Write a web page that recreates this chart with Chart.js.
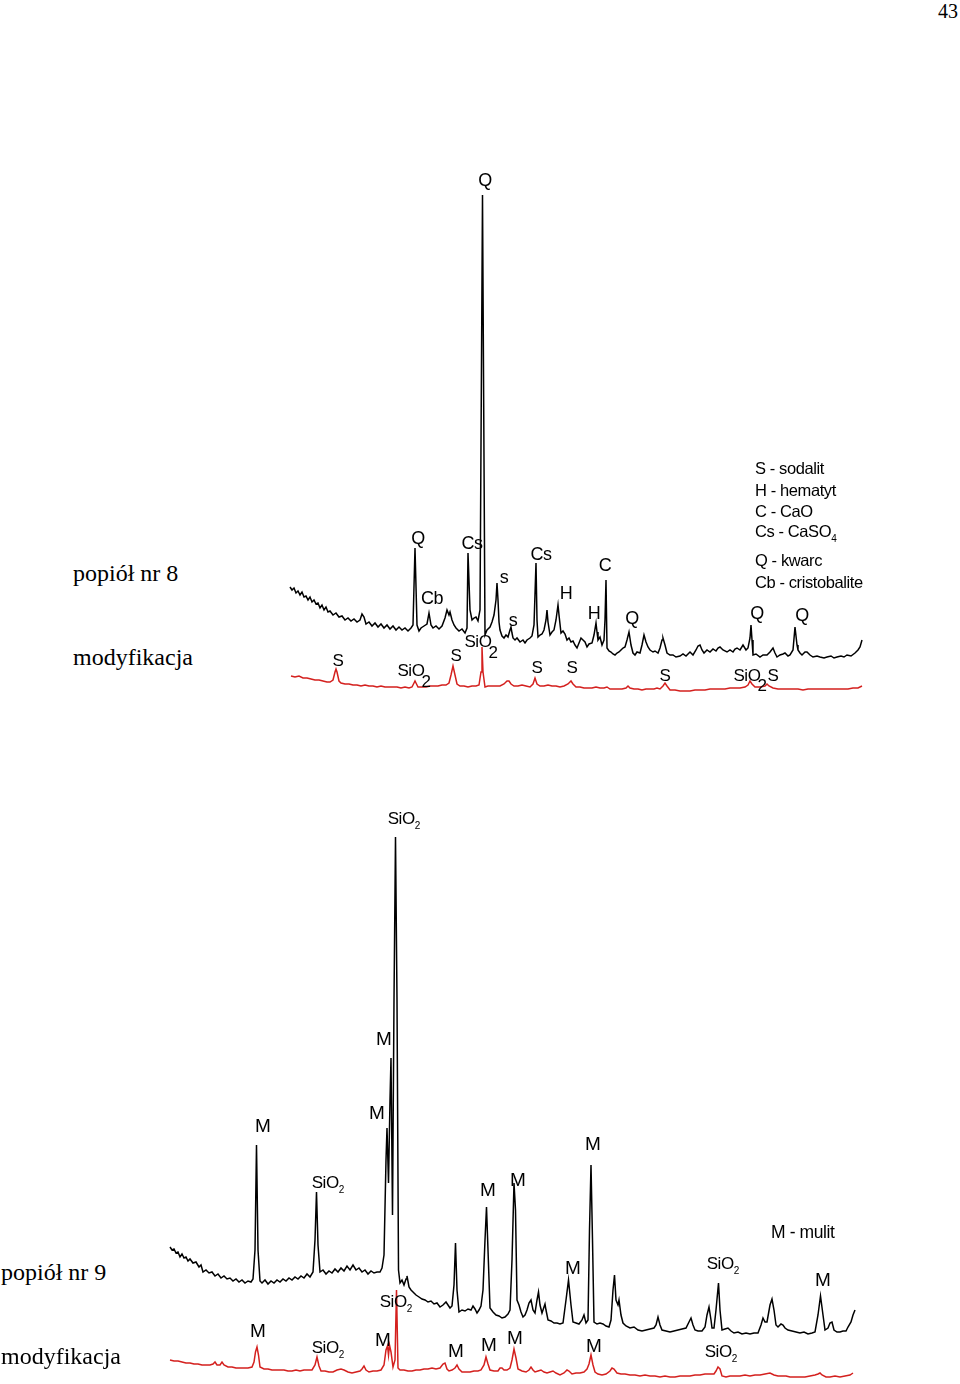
<!DOCTYPE html>
<html lang="pl">
<head>
    <meta charset="UTF-8">
    <title>popiół nr 8 / nr 9 - dyfraktogramy</title>
    <script src="https://cdn.jsdelivr.net/npm/chart.js"></script>
    <style>
        body {
            margin: 0;
            width: 960px;
            height: 1384px;
            position: relative;
            overflow: hidden;
            background: #fff;
            font-family: "Liberation Sans", Arial, sans-serif;
            color: #000;
        }
        canvas { position: absolute; }
        #chart8 { left: 240px; top: 150px; }
        #chart9 { left: 118px; top: 800px; }
        .t {
            position: absolute;
            transform: translate(-50%, -50%);
            white-space: nowrap;
            font-size: 18px;
            letter-spacing: -0.4px;
            line-height: 1;
        }
        .m { font-size: 19px; letter-spacing: 0; }
        .sm { font-size: 17px; }
        .serif {
            position: absolute;
            font-family: "Liberation Serif", "Times New Roman", serif;
            font-size: 24px;
            line-height: 1;
            transform: translateY(-50%);
            white-space: nowrap;
        }
        .legend {
            position: absolute;
            font-size: 16.5px;
            letter-spacing: -0.4px;
            line-height: 1;
            white-space: nowrap;
            transform: translateY(-50%);
        }
        sub { font-size: 10px; vertical-align: -5px; letter-spacing: 0; }
    </style>
</head>
<body>
    <div class="serif" style="left:938px; top:11px; font-size:20px;">43</div>

    <canvas id="chart8" width="720" height="560"></canvas>
    <canvas id="chart9" width="760" height="584"></canvas>

    <!-- popiół nr 8 -->
    <div class="serif" style="left:73px; top:573px;">popiół nr 8</div>
    <div class="serif" style="left:73px; top:657px;">modyfikacja</div>

    <div class="t" style="left:485px; top:180px;">Q</div>
    <div class="t" style="left:418px; top:538px;">Q</div>
    <div class="t" style="left:432px; top:598px;">Cb</div>
    <div class="t" style="left:472px; top:543px;">Cs</div>
    <div class="t" style="left:504px; top:577px;">s</div>
    <div class="t" style="left:541px; top:554px;">Cs</div>
    <div class="t" style="left:566px; top:593px;">H</div>
    <div class="t" style="left:605px; top:565px;">C</div>
    <div class="t" style="left:513px; top:620px;">s</div>
    <div class="t" style="left:594px; top:613px;">H</div>
    <div class="t" style="left:632px; top:618px;">Q</div>
    <div class="t" style="left:757px; top:613px;">Q</div>
    <div class="t" style="left:802px; top:615px;">Q</div>
    <div class="t sm" style="left:478px; top:641px;">SiO</div>
    <div class="t sm" style="left:493px; top:652px;">2</div>

    <div class="t sm" style="left:338px; top:660px;">S</div>
    <div class="t sm" style="left:411px; top:670px;">SiO</div>
    <div class="t sm" style="left:426px; top:681px;">2</div>
    <div class="t sm" style="left:456px; top:655px;">S</div>
    <div class="t sm" style="left:537px; top:667px;">S</div>
    <div class="t sm" style="left:572px; top:667px;">S</div>
    <div class="t sm" style="left:665px; top:675px;">S</div>
    <div class="t sm" style="left:747px; top:675px;">SiO</div>
    <div class="t sm" style="left:762px; top:685px;">2</div>
    <div class="t sm" style="left:773px; top:675px;">S</div>

    <div class="legend" style="left:755px; top:468px;">S - sodalit</div>
    <div class="legend" style="left:755px; top:490px;">H - hematyt</div>
    <div class="legend" style="left:755px; top:511px;">C - CaO</div>
    <div class="legend" style="left:755px; top:533px;">Cs - CaSO<sub>4</sub></div>
    <div class="legend" style="left:755px; top:560px;">Q - kwarc</div>
    <div class="legend" style="left:755px; top:582px;">Cb - cristobalite</div>

    <!-- popiół nr 9 -->
    <div class="serif" style="left:1px; top:1272px;">popiół nr 9</div>
    <div class="serif" style="left:1px; top:1356px;">modyfikacja</div>

    <div class="t sm" style="left:404px; top:820px;">SiO<sub>2</sub></div>
    <div class="t m" style="left:384px; top:1038px;">M</div>
    <div class="t m" style="left:377px; top:1112px;">M</div>
    <div class="t m" style="left:263px; top:1125px;">M</div>
    <div class="t m" style="left:593px; top:1143px;">M</div>
    <div class="t sm" style="left:328px; top:1184px;">SiO<sub>2</sub></div>
    <div class="t m" style="left:488px; top:1189px;">M</div>
    <div class="t m" style="left:518px; top:1179px;">M</div>
    <div class="legend" style="left:771px; top:1233px; font-size:17.5px;">M - mulit</div>
    <div class="t m" style="left:573px; top:1267px;">M</div>
    <div class="t sm" style="left:723px; top:1265px;">SiO<sub>2</sub></div>
    <div class="t m" style="left:823px; top:1279px;">M</div>
    <div class="t sm" style="left:396px; top:1303px;">SiO<sub>2</sub></div>

    <div class="t m" style="left:258px; top:1330px;">M</div>
    <div class="t sm" style="left:328px; top:1349px;">SiO<sub>2</sub></div>
    <div class="t m" style="left:383px; top:1339px;">M</div>
    <div class="t m" style="left:456px; top:1350px;">M</div>
    <div class="t m" style="left:489px; top:1344px;">M</div>
    <div class="t m" style="left:515px; top:1337px;">M</div>
    <div class="t m" style="left:594px; top:1345px;">M</div>
    <div class="t sm" style="left:721px; top:1353px;">SiO<sub>2</sub></div>

    <script>
        // [2theta, intensity] pairs
        const ash8 = [
            [5.0,123],[5.2,120],[5.4,122],[5.6,117],[5.8,119],[6.0,115],[6.2,118],[6.4,113],[6.6,114],[6.8,110],
            [7.0,113],[7.2,108],[7.4,110],[7.6,106],[7.8,107],[8.0,102],[8.2,105],[8.4,100],[8.6,103],[8.8,98],
            [9.0,99],[9.3,95],[9.6,97],[9.9,93],[10.2,94],[10.5,90],[10.8,92],[11.1,89],[11.4,91],[11.7,88],
            [12.0,90],[12.2,96],[12.4,93],[12.6,86],[12.9,88],[13.2,84],[13.5,87],[13.8,83],[14.1,86],[14.4,82],
            [14.7,85],[15.0,81],[15.3,84],[15.6,80],[15.9,83],[16.2,80],[16.5,82],[16.8,79],[17.1,82],[17.3,85],
            [17.5,162],[17.7,85],[17.9,79],[18.1,82],[18.4,84],[18.7,86],[18.9,97],[19.1,85],[19.3,82],[19.6,84],
            [19.9,81],[20.2,84],[20.5,92],[20.7,100],[20.9,95],[21.0,98],[21.2,90],[21.4,85],[21.6,82],[21.9,79],
            [22.2,81],[22.5,77],[22.7,82],[22.8,157],[23.0,100],[23.2,90],[23.4,92],[23.6,93],[23.8,89],[24.0,100],
            [24.25,515],[24.5,75],[24.7,80],[25.0,83],[25.2,88],[25.4,95],[25.6,110],[25.7,127],[25.8,110],[25.9,88],
            [26.0,80],[26.2,74],[26.4,72],[26.6,75],[26.8,73],[27.0,80],[27.1,83],[27.2,77],[27.3,72],[27.5,70],
            [27.7,72],[28.0,68],[28.3,70],[28.5,67],[28.7,70],[29.0,72],[29.2,74],[29.4,85],[29.6,147],[29.7,90],
            [29.8,73],[30.0,75],[30.2,76],[30.4,80],[30.6,90],[30.7,100],[30.8,88],[31.0,75],[31.2,78],[31.4,80],
            [31.6,90],[31.8,105],[31.9,95],[32.1,77],[32.3,79],[32.5,76],[32.7,70],[32.9,72],[33.1,68],[33.3,69],
            [33.5,65],[33.7,62],[33.9,67],[34.1,72],[34.3,70],[34.5,68],[34.7,63],[34.9,66],[35.2,67],[35.4,75],
            [35.6,87],[35.7,78],[35.8,70],[36.0,73],[36.2,65],[36.4,70],[36.5,90],[36.6,130],[36.7,62],[36.9,59],
            [37.1,58],[37.3,56],[37.5,55],[37.7,57],[37.9,58],[38.1,60],[38.3,62],[38.5,63],[38.7,70],[38.9,78],
            [39.1,65],[39.3,57],[39.5,55],[39.7,58],[40.0,57],[40.2,65],[40.4,75],[40.6,68],[40.8,63],[41.0,60],
            [41.3,58],[41.5,59],[41.8,57],[42.0,62],[42.2,70],[42.3,72],[42.5,65],[42.7,57],[43.0,55],[43.3,55],
            [43.6,53],[44.0,54],[44.3,56],[44.6,54],[45.0,58],[45.3,55],[45.6,60],[45.8,64],[46.0,65],[46.2,60],
            [46.4,57],[46.7,60],[47.0,58],[47.3,61],[47.6,59],[47.8,62],[48.0,63],[48.3,60],[48.7,58],[49.0,60],
            [49.3,58],[49.5,61],[49.7,62],[50.0,60],[50.3,65],[50.6,60],[50.8,62],[51.0,72],[51.1,85],[51.2,70],
            [51.3,55],[51.6,56],[52.0,53],[52.3,55],[52.7,55],[53.0,58],[53.3,62],[53.5,57],[53.7,53],[54.0,55],
            [54.3,56],[54.5,57],[54.8,54],[55.0,55],[55.3,60],[55.5,83],[55.7,65],[55.8,60],[56.0,57],[56.2,55],
            [56.5,58],[56.7,58],[57.0,55],[57.3,53],[57.7,54],[58.0,53],[58.4,52],[58.7,53],[59.1,54],[59.4,52],
            [59.7,53],[60.1,54],[60.4,53],[60.7,55],[61.1,54],[61.5,57],[61.8,60],[62.0,63],[62.2,70]
        ];

        const ash8Mod = [
            [5.1,34],[5.5,33],[5.9,34],[6.3,32],[6.7,32],[7.1,31],[7.5,30],[7.9,30],[8.3,29],[8.7,28],
            [9.0,28],[9.3,30],[9.5,38],[9.6,41],[9.7,38],[9.9,29],[10.1,27],[10.5,26],[10.9,26],[11.3,25],
            [11.7,25],[12.1,24],[12.5,25],[12.9,24],[13.3,24],[13.7,23],[14.1,24],[14.5,23],[14.9,23],[15.3,23],
            [15.7,23],[16.1,22],[16.5,23],[16.9,22],[17.2,23],[17.4,27],[17.5,29],[17.6,27],[17.8,23],[18.2,23],
            [18.6,23],[19.0,24],[19.4,24],[19.8,24],[20.2,25],[20.6,25],[20.9,27],[21.1,35],[21.3,44],[21.5,35],
            [21.7,26],[22.0,24],[22.4,24],[22.8,23],[23.2,24],[23.6,24],[23.9,25],[24.1,38],[24.2,63],[24.3,38],
            [24.5,23],[24.8,24],[25.2,24],[25.6,24],[26.0,24],[26.4,26],[26.7,29],[26.9,29],[27.1,26],[27.4,24],
            [27.8,24],[28.2,25],[28.6,24],[29.0,23],[29.3,26],[29.5,32],[29.7,26],[30.0,24],[30.4,24],[30.8,25],
            [31.2,24],[31.6,24],[32.0,23],[32.4,24],[32.8,26],[33.1,29],[33.3,26],[33.6,23],[34.0,23],[34.4,22],
            [34.8,22],[35.2,22],[35.6,23],[36.0,22],[36.4,22],[36.7,23],[37.0,21],[37.4,21],[37.8,21],[38.2,21],
            [38.6,22],[38.8,24],[39.0,22],[39.4,21],[39.8,21],[40.2,20],[40.6,21],[41.0,21],[41.4,21],[41.7,22],
            [42.0,21],[42.3,24],[42.5,27],[42.7,24],[43.0,20],[43.5,20],[44.0,19],[44.5,19],[45.0,19],[45.5,20],
            [46.0,20],[46.5,20],[47.0,21],[47.5,21],[48.0,21],[48.5,21],[49.0,22],[49.5,22],[50.0,22],[50.5,23],
            [50.8,25],[51.0,29],[51.2,26],[51.5,23],[52.0,23],[52.5,24],[52.7,26],[52.9,24],[53.3,22],[53.8,21],
            [54.3,21],[54.8,21],[55.3,21],[55.8,21],[56.3,20],[56.8,21],[57.3,21],[57.8,21],[58.3,21],[58.8,21],
            [59.3,21],[59.8,21],[60.3,21],[60.8,21],[61.3,22],[61.8,22],[62.2,24]
        ];

        const ash9 = [
            [5.2,137],[5.4,134],[5.6,135],[5.8,131],[6.0,132],[6.2,127],[6.4,130],[6.6,126],[6.8,127],[7.0,123],
            [7.2,125],[7.5,121],[7.8,122],[8.1,117],[8.3,119],[8.5,112],[8.8,114],[9.1,111],[9.4,112],[9.7,108],
            [10.0,110],[10.3,106],[10.6,108],[10.9,105],[11.2,106],[11.5,103],[11.8,105],[12.1,102],[12.4,104],[12.7,101],
            [13.0,103],[13.3,102],[13.5,105],[13.7,134],[13.85,239],[14.0,134],[14.2,103],[14.4,101],[14.7,104],[15.0,100],
            [15.3,103],[15.6,101],[15.9,104],[16.2,102],[16.5,105],[16.8,103],[17.1,106],[17.4,104],[17.7,107],[18.0,105],
            [18.3,108],[18.6,106],[18.9,110],[19.2,107],[19.5,112],[19.7,144],[19.85,192],[20.0,139],[20.2,112],[20.5,114],
            [20.8,110],[21.1,113],[21.4,111],[21.7,115],[22.0,112],[22.3,116],[22.6,113],[22.9,118],[23.2,114],[23.5,119],
            [23.8,114],[24.1,116],[24.4,112],[24.7,114],[25.0,110],[25.3,113],[25.6,111],[25.9,112],[26.2,112],[26.4,116],
            [26.6,129],[26.8,224],[26.9,256],[27.05,201],[27.2,284],[27.3,326],[27.45,169],[27.6,384],[27.75,547],[27.9,384],
            [28.05,114],[28.2,101],[28.4,104],[28.6,99],[28.8,105],[28.9,108],[29.1,97],[29.3,94],[29.5,92],[29.8,89],
            [30.1,87],[30.4,85],[30.7,84],[31.0,82],[31.3,83],[31.6,80],[31.9,81],[32.2,77],[32.5,79],[32.8,82],
            [33.0,79],[33.2,76],[33.4,78],[33.6,99],[33.75,141],[33.9,94],[34.1,72],[34.4,74],[34.7,73],[35.0,75],
            [35.3,74],[35.5,78],[35.7,75],[35.9,71],[36.1,74],[36.3,78],[36.5,94],[36.7,144],[36.85,177],[37.0,134],
            [37.2,76],[37.5,72],[37.8,69],[38.1,68],[38.4,66],[38.7,67],[39.0,70],[39.2,74],[39.4,124],[39.6,201],
            [39.75,174],[39.9,84],[40.1,79],[40.3,72],[40.5,67],[40.7,69],[40.9,74],[41.1,81],[41.3,84],[41.5,74],
            [41.7,71],[41.9,84],[42.05,92],[42.2,79],[42.4,71],[42.6,77],[42.7,80],[42.8,74],[43.0,64],[43.3,63],
            [43.6,61],[43.9,61],[44.2,60],[44.5,61],[44.8,84],[45.05,104],[45.3,79],[45.5,62],[45.8,61],[46.1,60],
            [46.4,64],[46.6,69],[46.8,61],[47.0,64],[47.15,154],[47.3,219],[47.45,144],[47.6,62],[47.9,60],[48.2,61],
            [48.5,60],[48.8,58],[49.1,57],[49.3,64],[49.5,94],[49.65,109],[49.8,84],[50.0,79],[50.1,84],[50.3,69],
            [50.5,61],[50.8,58],[51.2,56],[51.6,57],[52.0,54],[52.4,53],[52.8,54],[53.2,55],[53.6,56],[53.8,59],
            [54.0,67],[54.2,59],[54.4,54],[54.8,53],[55.2,52],[55.6,53],[56.0,54],[56.4,55],[56.8,56],[57.1,62],
            [57.3,66],[57.5,59],[57.7,54],[58.0,53],[58.4,53],[58.7,57],[58.9,69],[59.1,77],[59.3,64],[59.4,56],
            [59.6,56],[59.8,74],[60.05,101],[60.2,74],[60.4,54],[60.7,55],[61.0,56],[61.3,53],[61.6,51],[62.0,52],
            [62.4,50],[62.8,51],[63.2,50],[63.6,51],[64.0,51],[64.3,59],[64.5,66],[64.7,62],[64.9,62],[65.2,79],
            [65.4,85],[65.6,74],[65.8,59],[66.0,57],[66.3,60],[66.5,59],[66.7,56],[67.0,54],[67.4,53],[67.8,52],
            [68.2,51],[68.6,52],[69.0,50],[69.4,51],[69.7,52],[70.0,69],[70.25,88],[70.5,69],[70.7,54],[71.0,56],
            [71.2,61],[71.4,62],[71.6,54],[71.9,52],[72.2,52],[72.5,53],[72.8,53],[73.0,57],[73.3,62],[73.5,69],
            [73.7,74]
        ];

        const ash9Mod = [
            [5.2,24],[5.6,23],[6.0,23],[6.4,22],[6.8,21],[7.2,21],[7.6,20],[8.0,20],[8.4,19],[8.8,19],
            [9.2,19],[9.5,20],[9.7,22],[9.9,19],[10.2,19],[10.4,22],[10.6,19],[11.0,17],[11.4,17],[11.8,16],
            [12.2,16],[12.6,16],[13.0,16],[13.4,17],[13.6,22],[13.75,32],[13.9,37],[14.05,29],[14.2,17],[14.6,15],
            [15.0,15],[15.4,14],[15.8,14],[16.2,14],[16.6,14],[17.0,13],[17.4,13],[17.8,14],[18.2,13],[18.6,14],
            [19.0,14],[19.4,14],[19.7,19],[19.9,27],[20.1,18],[20.3,13],[20.7,13],[21.1,12],[21.5,12],[21.9,14],
            [22.3,15],[22.6,14],[23.0,12],[23.4,11],[23.8,12],[24.2,13],[24.4,15],[24.6,18],[24.8,14],[25.1,12],
            [25.5,13],[25.9,13],[26.3,14],[26.6,19],[26.8,34],[26.95,38],[27.05,29],[27.15,39],[27.3,32],[27.5,17],
            [27.7,24],[27.85,94],[28.0,16],[28.2,14],[28.6,14],[29.0,13],[29.4,13],[29.8,14],[30.2,14],[30.6,15],
            [31.0,15],[31.4,16],[31.8,15],[32.2,16],[32.5,20],[32.7,21],[32.9,15],[33.1,13],[33.4,14],[33.7,16],
            [33.9,19],[34.1,15],[34.4,12],[34.8,12],[35.2,12],[35.6,13],[36.0,13],[36.3,14],[36.6,19],[36.8,27],
            [37.0,20],[37.2,14],[37.6,13],[38.0,13],[38.2,16],[38.4,16],[38.6,14],[38.9,14],[39.2,16],[39.4,24],
            [39.6,35],[39.8,26],[40.0,15],[40.4,13],[40.8,12],[41.1,14],[41.3,17],[41.5,14],[41.7,12],[42.0,13],
            [42.3,14],[42.6,12],[42.9,11],[43.2,12],[43.5,13],[43.8,11],[44.2,9],[44.6,11],[44.9,14],[45.1,13],
            [45.4,10],[45.8,11],[46.2,11],[46.6,12],[46.9,15],[47.1,20],[47.3,29],[47.5,19],[47.7,12],[48.0,10],
            [48.4,9],[48.8,10],[49.2,13],[49.4,16],[49.6,15],[49.9,11],[50.3,10],[50.7,10],[51.2,9],[51.7,9],
            [52.2,8],[52.7,9],[53.2,8],[53.7,8],[54.2,7],[54.7,8],[55.2,7],[55.7,7],[56.2,8],[56.7,8],
            [57.2,8],[57.7,9],[58.2,9],[58.7,10],[59.2,10],[59.6,10],[59.8,13],[60.0,17],[60.2,15],[60.4,8],
            [60.8,7],[61.2,8],[61.7,8],[62.2,8],[62.7,9],[63.2,8],[63.7,9],[64.2,9],[64.7,10],[65.2,11],
            [65.6,9],[66.0,8],[66.4,8],[66.8,8],[67.2,7],[67.7,7],[68.2,7],[68.7,7],[69.2,8],[69.7,9],
            [70.0,10],[70.2,11],[70.4,9],[70.8,7],[71.2,7],[71.7,8],[72.2,7],[72.7,8],[73.2,9],[73.5,11]
        ];

        const BLACK = '#000000';
        const RED = '#d4201e';

        function drawPattern(id, xMax, yMax, traces) {
            return new Chart(document.getElementById(id), {
                type: 'line',
                data: {
                    datasets: traces.map(t => ({
                        data: t.data,
                        borderColor: t.color,
                        borderWidth: 1.5,
                        pointRadius: 0,
                        tension: 0,
                        fill: false
                    }))
                },
                options: {
                    responsive: false,
                    animation: false,
                    devicePixelRatio: 1,
                    layout: { padding: 0 },
                    plugins: {
                        legend: { display: false },
                        tooltip: { enabled: false }
                    },
                    scales: {
                        x: { type: 'linear', min: 0, max: xMax, display: false },
                        y: { type: 'linear', min: 0, max: yMax, display: false }
                    }
                }
            });
        }

        drawPattern('chart8', 72, 560, [
            { data: ash8, color: BLACK },
            { data: ash8Mod, color: RED }
        ]);
        drawPattern('chart9', 76, 584, [
            { data: ash9, color: BLACK },
            { data: ash9Mod, color: RED }
        ]);
    </script>
</body>
</html>
